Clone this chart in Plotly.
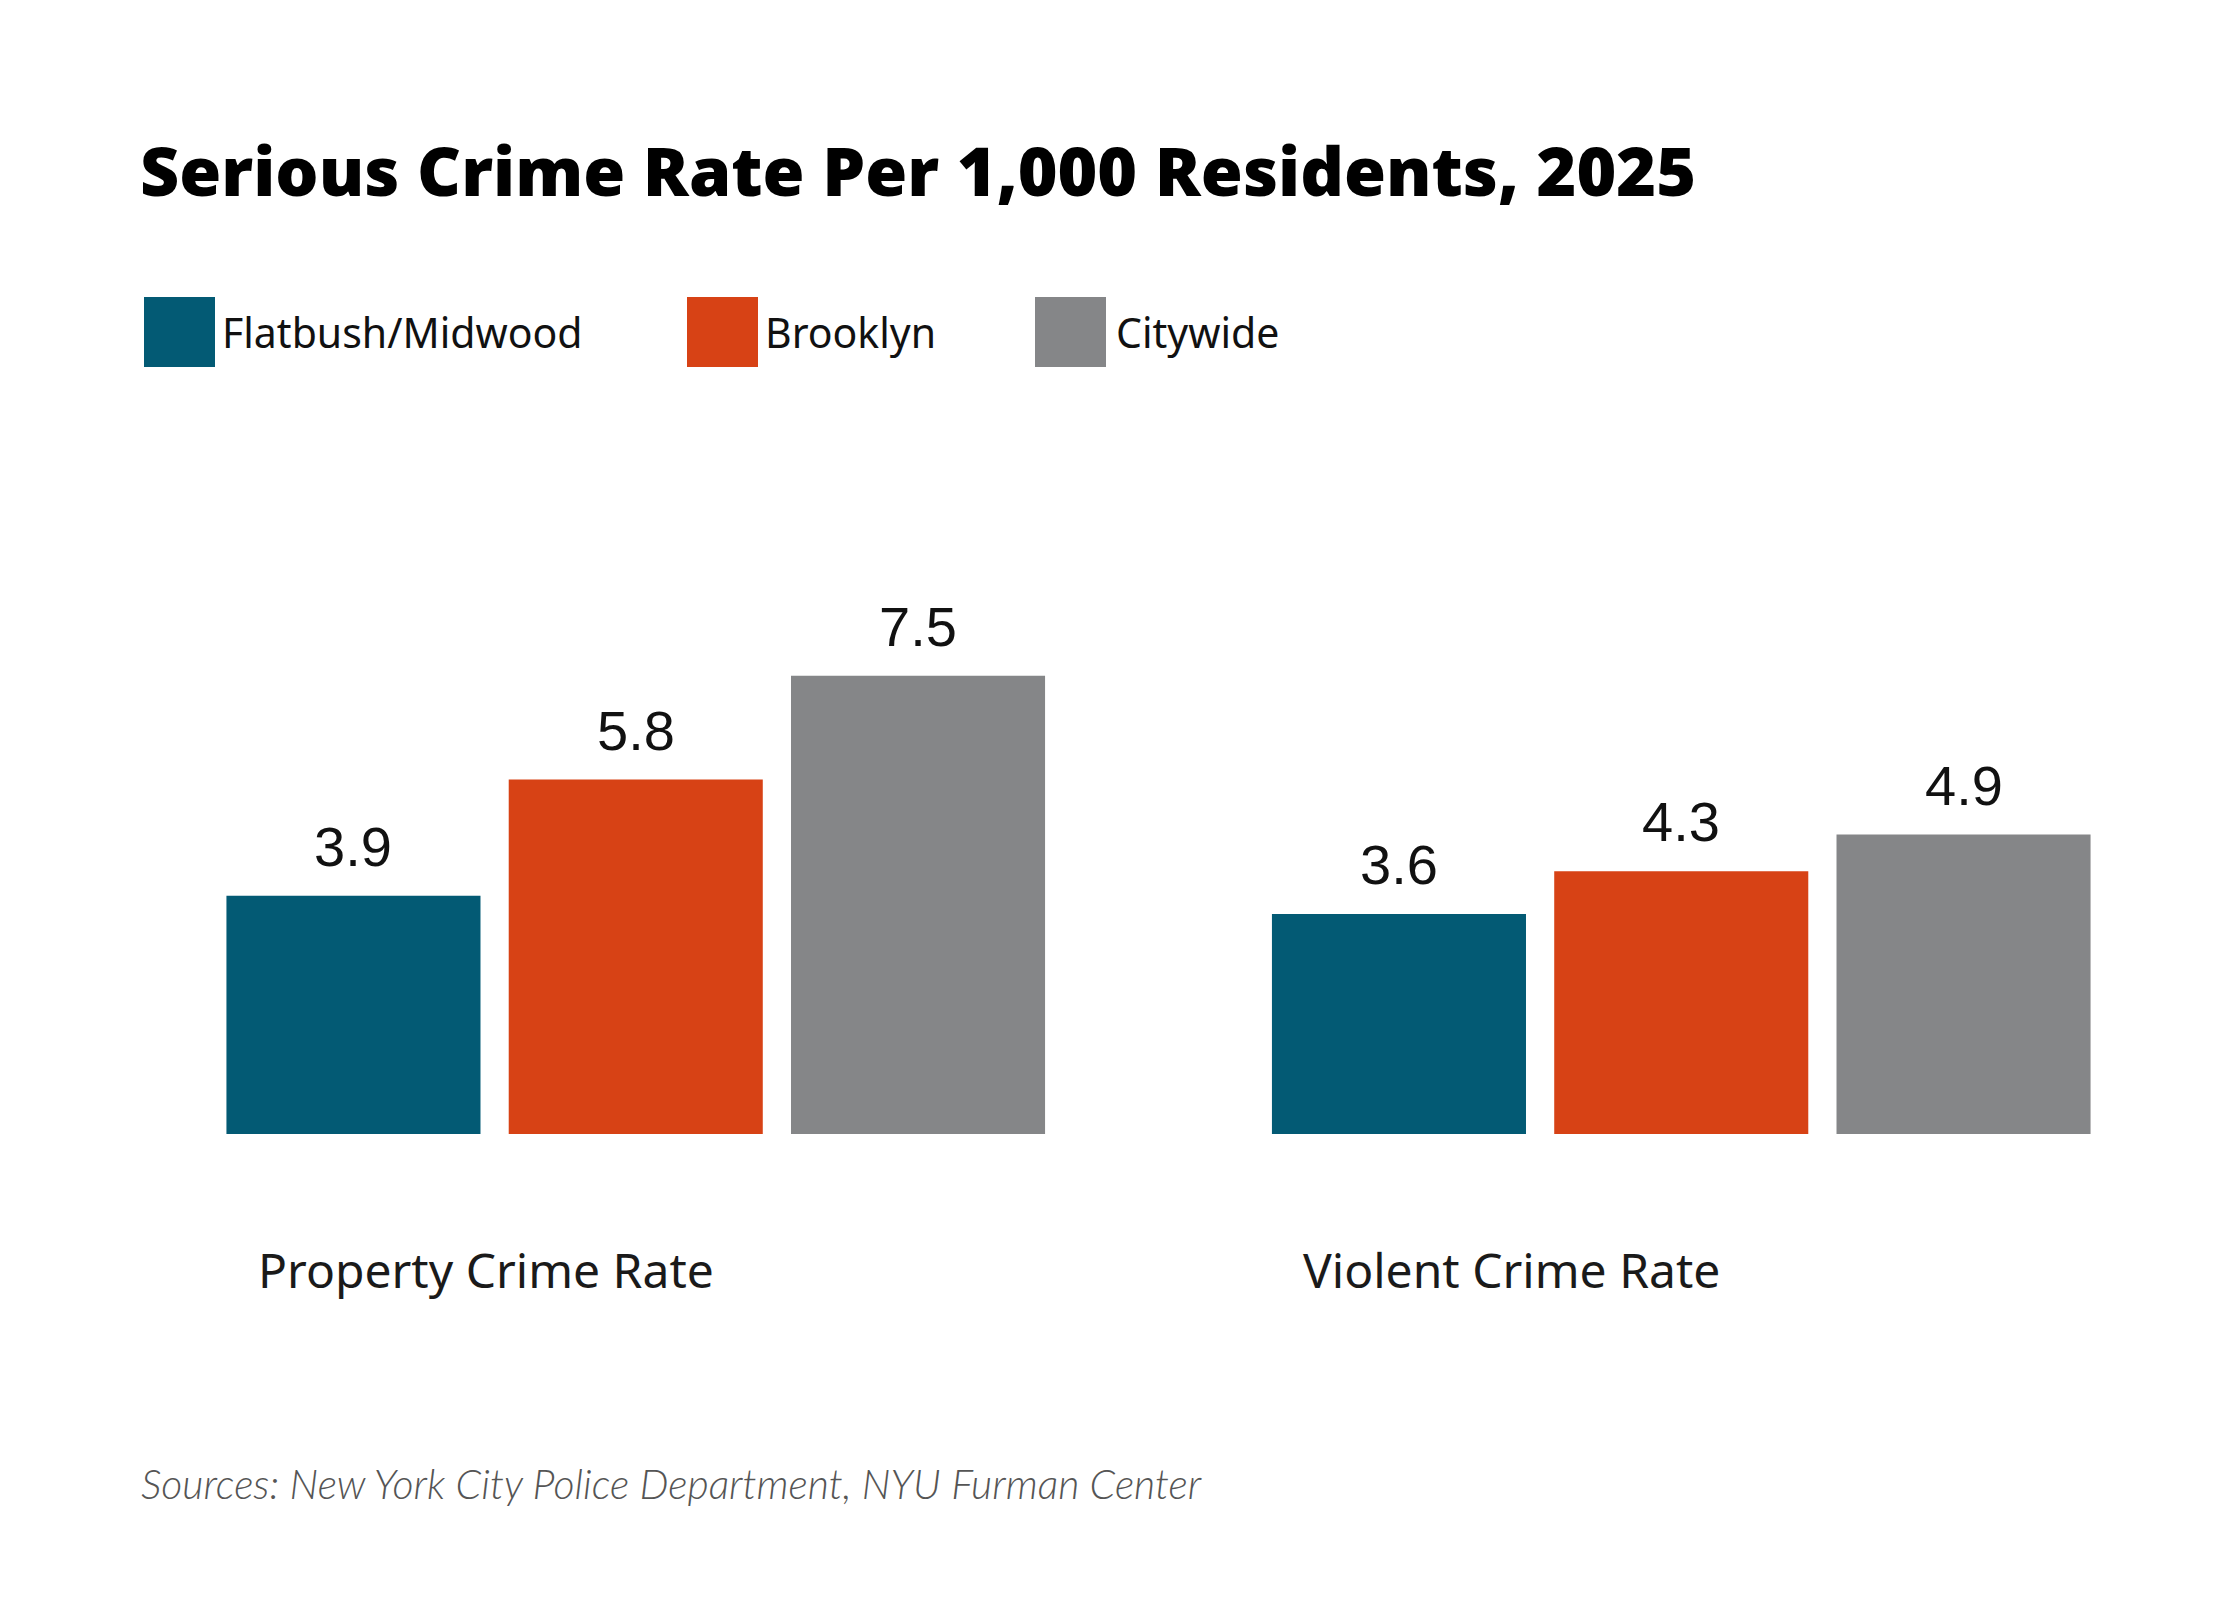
import plotly.graph_objects as go

# data
categories = ["Property Crime Rate", "Violent Crime Rate"]
series_names = ["Flatbush/Midwood", "Brooklyn", "Citywide"]
flatbush = [3.9, 3.6]
brooklyn = [5.8, 4.3]
citywide = [7.5, 4.9]
series_values = [flatbush, brooklyn, citywide]
colors = ["#035A74", "#D74215", "#858688"]

W, H = 2240, 1600
L, R, T, B = 105, 44, 576, 474
BARGAP = 0.19
BARGROUPGAP = 0.1

plot_w = W - L - R
plot_h = H - T - B
slot_px = (plot_w / len(categories)) * (1 - BARGAP) / len(series_names)


def px(x):
    # pixel x -> paper x
    return (x - L) / plot_w


def py(y):
    # pixel y -> paper y
    return (H - B - y) / plot_h


fig = go.Figure()
for name, vals, col in zip(series_names, series_values, colors):
    fig.add_trace(go.Bar(x=categories, y=vals, name=name, marker=dict(color=col, line=dict(width=0)),
                         showlegend=False, hoverinfo="skip"))

annotations = []
shapes = []

# value labels above bars
for i, vals in enumerate(series_values):
    for cat, v in zip(categories, vals):
        annotations.append(dict(x=cat, y=v, xref="x", yref="y", text=f"{v:.1f}", showarrow=False,
                                xanchor="center", yanchor="bottom", xshift=(i - 1) * slot_px, yshift=16,
                                font=dict(family="Liberation Sans, Arial", size=56, color="#111111")))

# category labels under the groups
for cat in categories:
    annotations.append(dict(x=cat, y=py(1261), xref="x", yref="paper", text=cat, showarrow=False,
                            xanchor="left", yanchor="middle", xshift=-380,
                            font=dict(family="Noto Sans", size=48, color="#1a1a1a")))

# legend drawn by hand (big squares)
legend_sq = [136, 679, 1027]
legend_txt = [212, 755, 1106]
for name, col, sx, tx in zip(series_names, colors, legend_sq, legend_txt):
    shapes.append(dict(type="rect", xref="paper", yref="paper", x0=px(sx), x1=px(sx + 71),
                       y0=py(359), y1=py(289), fillcolor=col, line=dict(width=0)))
    annotations.append(dict(x=px(tx), y=py(324), xref="paper", yref="paper", text=name, showarrow=False,
                            xanchor="left", yanchor="middle",
                            font=dict(family="Noto Sans", size=41, color="#111111")))

# source note
annotations.append(dict(x=px(131), y=py(1475), xref="paper", yref="paper",
                        text="Sources: New York City Police Department, NYU Furman Center",
                        showarrow=False, xanchor="left", yanchor="middle",
                        font=dict(family="Lato", size=41, color="#555555", style="italic", weight=300)))

fig.update_layout(
    width=W, height=H,
    margin=dict(l=L, r=R, t=T, b=B),
    paper_bgcolor="white", plot_bgcolor="white",
    barmode="group", bargap=BARGAP, bargroupgap=BARGROUPGAP,
    title=dict(text="Serious Crime Rate Per 1,000 Residents, 2025", xref="container", yref="container",
               x=132 / W, xanchor="left", y=1 - 164 / H, yanchor="middle",
               font=dict(family="Open Sans", size=68, color="#000000", weight=800)),
    xaxis=dict(range=[-0.5, 1.5], showticklabels=False, showgrid=False, zeroline=False, showline=False),
    yaxis=dict(range=[0, 9], showticklabels=False, showgrid=False, zeroline=False, showline=False),
    annotations=annotations,
    shapes=shapes,
)

fig.write_html("out.html")
